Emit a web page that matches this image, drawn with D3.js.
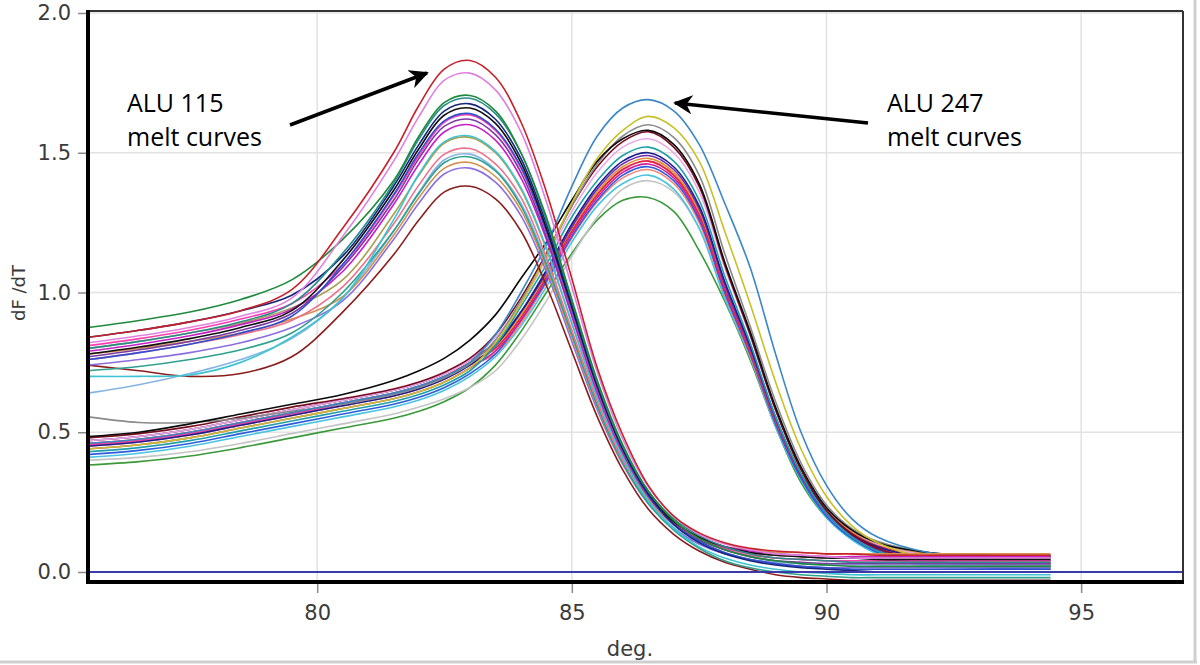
<!DOCTYPE html>
<html>
<head>
<meta charset="utf-8">
<script src="https://cdn.jsdelivr.net/npm/d3@7"></script>
<style>
  html, body { margin: 0; padding: 0; background: #ffffff; }
  svg { display: block; }
</style>
</head>
<body>
<script>
// ---------------- DATA ----------------
const temps = [75.5, 76.5, 77.5, 78.5, 79.5, 80.5, 81.5, 82, 82.5, 83, 83.5, 84, 84.5, 85, 85.5, 86, 86.5, 87, 87.5, 88, 88.5, 89, 89.5, 90, 90.5, 91, 92, 93, 94.4];

const xTickValues = [80, 85, 90, 95];
const yTickValues = [0.0, 0.5, 1.0, 1.5, 2.0];
const xAxisTitle = "deg.";
const yAxisTitle = "dF /dT";
const note115 = ["ALU 115", "melt curves"];
const note247 = ["ALU 247", "melt curves"];

// ALU 115 melt curves (dF/dT at each temperature in temps)
const a115_red     = [.84,.865,.895,.935,1.01,1.23,1.50,1.67,1.80,1.83,1.77,1.61,1.36,1.05,.73,.49,.31,.20,.14,.105,.085,.075,.07,.065,.065,.06,.06,.06,.06];
const a115_pink    = [.82,.845,.875,.915,.98,1.20,1.47,1.63,1.76,1.785,1.725,1.575,1.325,1.02,.715,.475,.305,.20,.135,.10,.08,.065,.06,.055,.05,.05,.05,.05,.05];
const a115_green   = [.875,.90,.93,.975,1.045,1.19,1.40,1.56,1.68,1.705,1.65,1.50,1.27,.975,.685,.455,.29,.185,.12,.08,.055,.04,.03,.025,.02,.02,.02,.02,.02];
const a115_teal    = [.80,.825,.855,.895,.96,1.14,1.39,1.55,1.67,1.695,1.64,1.50,1.26,.97,.68,.45,.29,.19,.13,.09,.065,.05,.045,.04,.035,.035,.035,.035,.035];
const a115_navy    = [.84,.865,.895,.935,.99,1.13,1.38,1.53,1.65,1.675,1.62,1.48,1.245,.96,.67,.445,.28,.17,.105,.065,.04,.025,.015,.01,.005,0,0,0,0];
const a115_black   = [.78,.805,.835,.875,.935,1.115,1.365,1.515,1.635,1.66,1.605,1.465,1.23,.95,.665,.44,.28,.18,.125,.09,.07,.06,.055,.05,.05,.045,.045,.045,.045];
const a115_blue    = [.76,.785,.815,.855,.915,1.10,1.35,1.50,1.615,1.64,1.585,1.45,1.22,.94,.66,.435,.275,.17,.11,.07,.045,.03,.02,.015,.01,.01,.01,.01,.01];
const a115_magenta = [.79,.815,.845,.885,.94,1.075,1.315,1.46,1.575,1.60,1.545,1.41,1.19,.915,.64,.425,.27,.175,.12,.09,.075,.065,.06,.055,.055,.055,.055,.055,.055];
const a115_purple  = [.77,.795,.825,.865,.925,1.09,1.33,1.48,1.595,1.62,1.565,1.43,1.20,.925,.65,.43,.275,.175,.115,.08,.055,.04,.035,.03,.03,.03,.03,.03,.03];
const a115_cyan    = [.70,.70,.705,.75,.84,.98,1.26,1.425,1.54,1.56,1.505,1.375,1.16,.89,.625,.41,.255,.155,.09,.05,.025,.01,0,-.005,-.01,-.01,-.01,-.01,-.01];
const a115_salmon  = [.76,.785,.815,.85,.90,1.02,1.245,1.385,1.495,1.515,1.46,1.34,1.125,.865,.61,.40,.26,.17,.115,.08,.06,.05,.045,.04,.04,.04,.04,.04,.04];
const a115_seagrn  = [.72,.735,.76,.795,.855,1.00,1.22,1.355,1.465,1.485,1.435,1.31,1.10,.85,.595,.39,.245,.15,.085,.04,.015,0,-.01,-.015,-.02,-.02,-.02,-.02,-.02];
const a115_tan     = [.78,.80,.825,.855,.905,.985,1.205,1.34,1.445,1.465,1.415,1.295,1.09,.84,.59,.39,.255,.17,.12,.09,.08,.07,.07,.065,.065,.065,.065,.065,.065];
const a115_violet  = [.74,.76,.785,.82,.875,.97,1.19,1.32,1.425,1.445,1.395,1.275,1.075,.825,.58,.385,.245,.155,.10,.065,.045,.03,.02,.015,.015,.015,.015,.015,.015];
const a115_brown   = [.74,.72,.70,.71,.77,.93,1.135,1.26,1.36,1.38,1.335,1.22,1.025,.79,.555,.365,.225,.135,.075,.035,.01,-.01,-.02,-.025,-.03,-.03,-.03,-.03,-.03];
const a115_ltblue  = [.64,.67,.71,.76,.835,.98,1.22,1.36,1.475,1.495,1.44,1.32,1.11,.855,.60,.40,.255,.16,.10,.065,.045,.035,.03,.025,.025,.025,.025,.025,.025];
const a115_olive   = [.80,.825,.855,.89,.945,1.045,1.28,1.42,1.535,1.555,1.50,1.37,1.155,.89,.625,.415,.265,.175,.12,.09,.07,.06,.055,.05,.05,.05,.05,.05,.05];
const a115_hotpink = [.81,.835,.865,.905,.96,1.10,1.345,1.49,1.61,1.635,1.58,1.445,1.215,.935,.655,.435,.28,.18,.12,.085,.065,.05,.045,.04,.04,.04,.04,.04,.04];

// ALU 247 melt curves
const a247_blue    = [.46,.475,.50,.535,.57,.605,.64,.665,.70,.75,.85,1.0,1.17,1.38,1.56,1.66,1.69,1.65,1.53,1.32,1.09,.78,.50,.31,.19,.125,.07,.06,.055];
const a247_yellow  = [.44,.455,.48,.515,.55,.585,.62,.645,.68,.73,.82,.96,1.13,1.32,1.48,1.58,1.63,1.59,1.47,1.22,.96,.68,.44,.27,.165,.105,.05,.04,.035];
const a247_gray    = [.555,.535,.535,.55,.575,.60,.635,.66,.695,.745,.83,.97,1.13,1.31,1.46,1.56,1.60,1.555,1.42,1.14,.88,.61,.39,.24,.155,.11,.07,.06,.06];
const a247_black   = [.485,.50,.53,.565,.60,.635,.685,.72,.765,.83,.92,1.05,1.18,1.33,1.47,1.55,1.58,1.53,1.39,1.11,.86,.59,.375,.23,.15,.105,.07,.06,.055];
const a247_darkred = [.48,.495,.52,.555,.59,.62,.655,.68,.715,.765,.85,.98,1.14,1.31,1.45,1.54,1.575,1.52,1.38,1.10,.85,.58,.365,.22,.135,.085,.04,.03,.025];
const a247_ltpink  = [.47,.485,.51,.545,.58,.615,.65,.675,.71,.76,.84,.96,1.12,1.29,1.43,1.52,1.55,1.50,1.36,1.09,.845,.58,.37,.23,.15,.10,.06,.055,.05];
const a247_teal    = [.43,.445,.47,.505,.54,.575,.61,.635,.67,.72,.81,.95,1.10,1.27,1.40,1.49,1.52,1.47,1.33,1.06,.82,.555,.35,.21,.125,.075,.03,.02,.02];
const a247_navy    = [.45,.465,.49,.525,.56,.595,.63,.655,.69,.74,.81,.93,1.08,1.245,1.38,1.47,1.50,1.45,1.31,1.04,.81,.555,.35,.22,.135,.09,.05,.045,.04];
const a247_purple  = [.47,.485,.51,.545,.58,.615,.65,.675,.71,.76,.82,.93,1.07,1.235,1.37,1.46,1.49,1.44,1.30,1.03,.80,.545,.345,.21,.13,.08,.035,.025,.02];
const a247_red     = [.46,.475,.50,.535,.57,.605,.64,.665,.70,.75,.80,.91,1.06,1.22,1.35,1.44,1.47,1.42,1.28,1.02,.79,.54,.345,.215,.14,.095,.055,.05,.05];
const a247_magenta = [.44,.455,.48,.515,.55,.585,.62,.645,.68,.73,.79,.90,1.05,1.21,1.34,1.43,1.46,1.41,1.27,1.01,.785,.54,.345,.21,.13,.085,.045,.04,.035];
const a247_royal   = [.42,.435,.46,.495,.53,.565,.60,.625,.66,.71,.78,.90,1.04,1.20,1.33,1.42,1.45,1.40,1.26,1.00,.78,.53,.335,.20,.12,.07,.025,.015,.01];
const a247_salmon  = [.45,.465,.49,.525,.56,.595,.63,.655,.69,.74,.78,.89,1.035,1.195,1.325,1.41,1.44,1.39,1.25,.995,.775,.53,.34,.21,.14,.095,.06,.055,.055];
const a247_cyan    = [.41,.425,.45,.485,.52,.555,.59,.615,.65,.70,.77,.88,1.02,1.18,1.31,1.39,1.42,1.37,1.23,.98,.77,.52,.33,.195,.115,.065,.02,.015,.01];
const a247_ltgray  = [.40,.41,.43,.46,.495,.53,.565,.59,.62,.66,.72,.83,.97,1.13,1.27,1.37,1.40,1.36,1.23,.985,.77,.53,.34,.21,.135,.09,.05,.045,.045];
const a247_green   = [.383,.395,.415,.445,.48,.515,.55,.575,.61,.66,.74,.86,1.00,1.14,1.26,1.33,1.34,1.29,1.15,.97,.76,.52,.32,.195,.12,.075,.035,.03,.03];
const a247_orange  = [.47,.485,.51,.545,.58,.615,.65,.675,.71,.76,.81,.92,1.065,1.23,1.36,1.45,1.48,1.43,1.29,1.03,.80,.545,.35,.22,.145,.10,.065,.06,.06];
const a247_hotpink = [.455,.47,.495,.53,.565,.60,.635,.66,.695,.745,.80,.91,1.06,1.22,1.35,1.44,1.47,1.42,1.28,1.02,.79,.54,.345,.21,.13,.085,.04,.03,.03];

const alu115Series = [a115_brown, a115_ltblue, a115_violet, a115_tan, a115_seagrn, a115_salmon, a115_olive, a115_cyan, a115_magenta, a115_purple, a115_hotpink, a115_blue, a115_black, a115_navy, a115_teal, a115_green, a115_pink, a115_red];
const alu115Colors = ["#8b1c1c", "#84b4e4", "#8c6ee0", "#d4904c", "#2ea08e", "#f0708c", "#a8a050", "#3ec3d3", "#c81ec8", "#7b3aa6", "#ff3cb0", "#2f4fd0", "#111111", "#16267e", "#2a8c8c", "#1e8a3c", "#e080e0", "#c8202a"];

const alu247Series = [a247_green, a247_ltgray, a247_cyan, a247_salmon, a247_royal, a247_magenta, a247_hotpink, a247_red, a247_orange, a247_purple, a247_navy, a247_teal, a247_ltpink, a247_darkred, a247_gray, a247_black, a247_yellow, a247_blue];
const alu247Colors = ["#3a9a3a", "#c4c4c4", "#48c4e0", "#f08878", "#2c5ce0", "#d01c9c", "#ff3ca8", "#e02838", "#e09030", "#6a2ab4", "#1c1c8c", "#1fa0a8", "#e8a8e8", "#7a0c20", "#8a8a8a", "#0a0a0a", "#c8c028", "#3a87c8"];

// ---------------- CHART ----------------
const W = 1200, H = 665;
const plotL = 88, plotR = 1183, plotT = 11, plotB = 582;

const svg = d3.select("body").append("svg")
  .attr("width", W).attr("height", H)
  .attr("viewBox", `0 0 ${W} ${H}`);

svg.append("rect").attr("width", W).attr("height", H).attr("fill", "#ffffff");

// window-like outer border (right + bottom)
svg.append("line").attr("x1", 1195).attr("x2", 1195).attr("y1", 0).attr("y2", 663)
  .attr("stroke", "#cfcfcf").attr("stroke-width", 3);
svg.append("line").attr("x1", 0).attr("x2", 1197).attr("y1", 662).attr("y2", 662)
  .attr("stroke", "#cfcfcf").attr("stroke-width", 3);

const x = d3.scaleLinear().domain([75.5, 97.0]).range([plotL, plotR]);
const y = d3.scaleLinear().domain([0, 2]).range([572, 13]);

svg.append("defs").append("clipPath").attr("id", "plotclip")
  .append("rect").attr("x", plotL).attr("y", plotT)
  .attr("width", plotR - plotL).attr("height", plotB - plotT);

// grid
const grid = svg.append("g");
grid.selectAll("line.gx").data(xTickValues).join("line")
  .attr("x1", d => x(d)).attr("x2", d => x(d))
  .attr("y1", plotT).attr("y2", plotB)
  .attr("stroke", "#e2e2e2").attr("stroke-width", 1.5);
grid.selectAll("line.gy").data(yTickValues.filter(d => d > 0)).join("line")
  .attr("x1", plotL).attr("x2", plotR)
  .attr("y1", d => y(d)).attr("y2", d => y(d))
  .attr("stroke", "#e2e2e2").attr("stroke-width", 1.5);

// curves
const line = d3.line()
  .x((d, i) => x(temps[i]))
  .y(d => y(d))
  .curve(d3.curveCatmullRom.alpha(0.5));

const curves = svg.append("g").attr("clip-path", "url(#plotclip)");
curves.selectAll("path.c247").data(alu247Series).join("path")
  .attr("d", line)
  .attr("fill", "none")
  .attr("stroke", (d, i) => alu247Colors[i])
  .attr("stroke-width", 1.6);
curves.selectAll("path.c115").data(alu115Series).join("path")
  .attr("d", line)
  .attr("fill", "none")
  .attr("stroke", (d, i) => alu115Colors[i])
  .attr("stroke-width", 1.6);

// zero line
svg.append("line")
  .attr("x1", plotL).attr("x2", plotR)
  .attr("y1", y(0)).attr("y2", y(0))
  .attr("stroke", "#3a3aa8").attr("stroke-width", 2);

// frame
svg.append("line").attr("x1", plotL).attr("x2", plotR).attr("y1", plotT).attr("y2", plotT)
  .attr("stroke", "#333").attr("stroke-width", 2);
svg.append("line").attr("x1", plotR).attr("x2", plotR).attr("y1", plotT).attr("y2", plotB)
  .attr("stroke", "#333").attr("stroke-width", 2);
svg.append("line").attr("x1", plotL).attr("x2", plotL).attr("y1", plotT - 1).attr("y2", plotB + 2)
  .attr("stroke", "#000").attr("stroke-width", 4);
svg.append("line").attr("x1", plotL - 2).attr("x2", plotR + 1).attr("y1", plotB).attr("y2", plotB)
  .attr("stroke", "#000").attr("stroke-width", 4);

// axes
const axisFont = "'DejaVu Sans', Verdana, sans-serif";
const yAxis = svg.append("g").attr("transform", `translate(${plotL - 2},0)`)
  .call(d3.axisLeft(y).tickValues(yTickValues).tickFormat(d3.format(".1f")).tickSize(8).tickPadding(7));
const xAxis = svg.append("g").attr("transform", `translate(0,${plotB + 2})`)
  .call(d3.axisBottom(x).tickValues(xTickValues).tickFormat(d3.format("d")).tickSize(9).tickPadding(12));
[yAxis, xAxis].forEach(g => {
  g.select(".domain").remove();
  g.selectAll(".tick line").attr("stroke", "#8a8a8a").attr("stroke-width", 1.5);
  g.selectAll(".tick text").attr("fill", "#3a3a3a")
    .style("font-family", axisFont).style("font-size", "21px");
});

svg.append("text").attr("x", 630).attr("y", 656)
  .attr("text-anchor", "middle").attr("fill", "#3a3a3a")
  .style("font-family", axisFont).style("font-size", "21px")
  .text(xAxisTitle);
svg.append("text")
  .attr("transform", "translate(25,293) rotate(-90)")
  .attr("text-anchor", "middle").attr("fill", "#3a3a3a")
  .style("font-family", axisFont).style("font-size", "18px")
  .text(yAxisTitle);

// annotations
const noteFont = "'Open Sans', Lato, sans-serif";
function note(lines, x0, y0) {
  const t = svg.append("text").attr("x", x0).attr("y", y0).attr("fill", "#000")
    .style("font-family", noteFont).style("font-size", "25px");
  lines.forEach((s, i) => t.append("tspan").attr("x", x0).attr("dy", i === 0 ? 0 : 34).text(s));
}
note(note115, 127, 112);
note(note247, 887, 112);

const mk = svg.select("defs").append("marker")
  .attr("id", "arrowhead").attr("viewBox", "0 0 10 10")
  .attr("refX", 9).attr("refY", 5)
  .attr("markerWidth", 5.5).attr("markerHeight", 5.5)
  .attr("markerUnits", "strokeWidth").attr("orient", "auto");
mk.append("path").attr("d", "M0,0 L10,5 L0,10 L3,5 Z").attr("fill", "#000");

svg.append("line").attr("x1", 290).attr("y1", 125).attr("x2", 427).attr("y2", 73)
  .attr("stroke", "#000").attr("stroke-width", 3.5).attr("marker-end", "url(#arrowhead)");
svg.append("line").attr("x1", 868).attr("y1", 123).attr("x2", 675).attr("y2", 103)
  .attr("stroke", "#000").attr("stroke-width", 3.5).attr("marker-end", "url(#arrowhead)");
</script>
</body>
</html>
